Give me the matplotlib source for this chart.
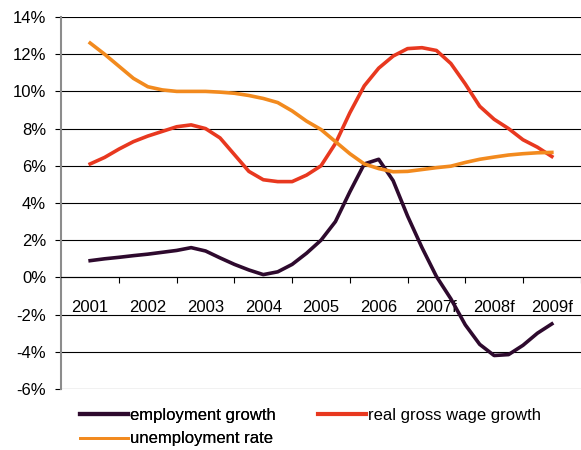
import numpy as np
import matplotlib
matplotlib.use("Agg")
import matplotlib.pyplot as plt
from matplotlib.ticker import FixedLocator, FuncFormatter
from matplotlib.lines import Line2D

plt.rcParams['font.family'] = ['Liberation Sans', 'DejaVu Sans']

years = ['2001', '2002', '2003', '2004', '2005', '2006', '2007f', '2008f', '2009f']

# quarterly values, %, from 2001 to 2009f
employment = [0.9, 1.0, 1.08, 1.17, 1.25, 1.35, 1.45, 1.6, 1.42, 1.05, 0.7, 0.4, 0.15,
              0.3, 0.7, 1.3, 2.0, 3.0, 4.6, 6.1, 6.35, 5.2, 3.3, 1.6, 0.05,
              -1.15, -2.55, -3.6, -4.2, -4.15, -3.65, -3.0, -2.5]
wage = [6.1, 6.45, 6.9, 7.3, 7.6, 7.85, 8.1, 8.2, 8.0, 7.5, 6.6, 5.7, 5.25,
        5.15, 5.15, 5.5, 6.0, 7.2, 8.85, 10.3, 11.25, 11.9, 12.3, 12.35, 12.2,
        11.5, 10.4, 9.2, 8.5, 8.0, 7.4, 7.0, 6.5]
unemployment = [12.6, 12.0, 11.35, 10.7, 10.25, 10.08, 10.0, 10.0, 10.0, 9.96, 9.9, 9.78, 9.62,
                9.4, 8.95, 8.4, 7.95, 7.3, 6.65, 6.1, 5.85, 5.68, 5.7, 5.8, 5.9,
                5.98, 6.18, 6.35, 6.47, 6.58, 6.65, 6.7, 6.72]

c_emp = '#2e0a2e'
c_wage = '#e8381f'
c_unemp = '#f28a1e'

fig = plt.figure(figsize=(5.81, 4.5), dpi=100)
ax = fig.add_axes([61.3 / 581, 61 / 450, 519.4 / 581, 372 / 450])

t = np.arange(len(employment)) / 4
for vals, col in [(employment, c_emp), (wage, c_wage), (unemployment, c_unemp)]:
    ax.plot(t, vals, color=col, lw=2.6, zorder=3, solid_joinstyle='round')

ax.set_xlim(-0.5, 8.5)
ax.set_ylim(-6, 14)
ax.set_axisbelow(True)

# y axis
ax.set_yticks(np.arange(-6, 15, 2))
ax.yaxis.set_major_formatter(FuncFormatter(lambda v, p: '%d%%' % v))
ax.tick_params(axis='y', length=4, width=0.8, color='black', labelsize=12, pad=7)
ax.grid(axis='y', color='black', lw=0.8)
ax.spines['left'].set_color('#8c8c8c')
ax.spines['left'].set_linewidth(1.5)
ax.spines['right'].set_visible(False)
ax.spines['top'].set_visible(False)

# category axis sits on the zero line
ax.spines['bottom'].set_position(('data', 0))
ax.spines['bottom'].set_color('black')
ax.spines['bottom'].set_linewidth(0.8)
ax.set_xticks(range(len(years)))
ax.set_xticklabels(years)
ax.xaxis.set_minor_locator(FixedLocator(np.arange(0.5, 9, 1)))
ax.tick_params(axis='x', which='major', length=0, labelsize=12, pad=16)
ax.tick_params(axis='x', which='minor', length=4, width=0.8, color='black', direction='out')

h_emp = Line2D([], [], color=c_emp, lw=3)
h_unemp = Line2D([], [], color=c_unemp, lw=2)
h_wage = Line2D([], [], color=c_wage, lw=3)

leg1 = fig.legend([h_emp, h_unemp], ['employment growth', 'unemployment rate'],
                  loc='upper left', bbox_to_anchor=(80 / 581, 1 - 408 / 450),
                  frameon=False, fontsize=12, handlelength=2.9, handletextpad=0.1,
                  borderpad=0, borderaxespad=0, labelspacing=0.5)
fig.add_artist(leg1)
fig.legend([h_wage], ['real gross wage growth'],
           loc='upper left', bbox_to_anchor=(318 / 581, 1 - 408 / 450),
           frameon=False, fontsize=12, handlelength=2.9, handletextpad=0.1,
           borderpad=0, borderaxespad=0)

fig.savefig('out.png', dpi=100)
